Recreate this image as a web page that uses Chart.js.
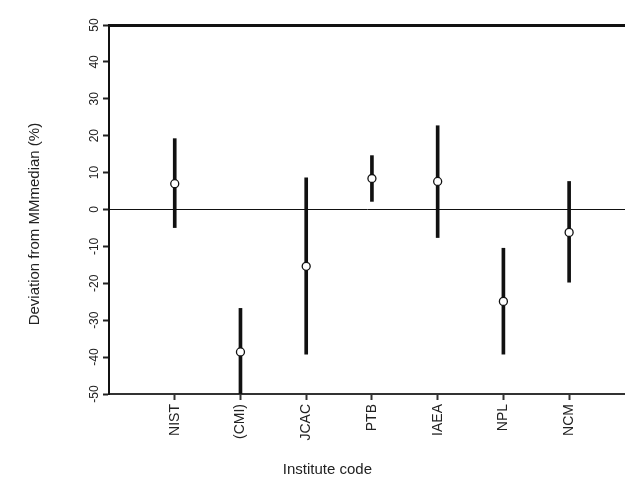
<!DOCTYPE html>
<html>
<head>
<meta charset="utf-8">
<script src="https://cdn.jsdelivr.net/npm/chart.js@4/dist/chart.umd.min.js"></script>
<style>
  html, body { margin: 0; padding: 0; background: #ffffff; overflow: hidden; }
  canvas { display: block; }
</style>
</head>
<body>
<canvas id="c" width="625" height="482" style="width:625px;height:482px"></canvas>
<script>
// Data
const categories = ['NIST', '(CMI)', 'JCAC', 'PTB', 'IAEA', 'NPL', 'NCM'];
const deviation = [7.0, -38.6, -15.4, 8.4, 7.6, -24.9, -6.2];
const lowerBound = [-4.9, -50, -39.2, 2.2, -7.6, -39.2, -19.7];
const upperBound = [19.2, -26.8, 8.6, 14.6, 22.7, -10.5, 7.6];
const yTicks = [-50, -40, -30, -20, -10, 0, 10, 20, 30, 40, 50];

const FONT = "'Liberation Sans', Arial, sans-serif";
// trailing spaces shift the centred titles to where the reference places them
const xTitle = 'Institute code' + ' '.repeat(19);
const yTitle = 'Deviation from MMmedian (%)' + ' '.repeat(7);

const barData = categories.map((c, i) => ({ x: i, y: [lowerBound[i], upperBound[i]] }));
const pointData = categories.map((c, i) => ({ x: i, y: deviation[i] }));

new Chart(document.getElementById('c'), {
  data: {
    datasets: [
      {
        type: 'scatter',
        label: 'Deviation',
        data: pointData,
        pointRadius: 4,
        pointHoverRadius: 4,
        pointBackgroundColor: '#ffffff',
        pointBorderColor: '#111111',
        pointBorderWidth: 1.3,
        order: 0
      },
      {
        type: 'bar',
        label: 'Uncertainty',
        data: barData,
        backgroundColor: '#111111',
        borderWidth: 0,
        barThickness: 3,
        grouped: false,
        order: 1
      }
    ]
  },
  options: {
    responsive: false,
    animation: false,
    devicePixelRatio: 1,
    layout: { autoPadding: false, padding: { top: 25, right: 0, bottom: 0, left: 0 } },
    plugins: { legend: { display: false }, tooltip: { enabled: false } },
    scales: {
      x: {
        type: 'linear',
        min: -1,
        max: 6.85,
        offset: false,
        afterFit: (s) => { s.height = 88; s.paddingRight = 0; },
        afterBuildTicks: (s) => { s.ticks = categories.map((c, i) => ({ value: i })); },
        ticks: {
          autoSkip: false,
          minRotation: 90,
          maxRotation: 90,
          padding: 4,
          color: '#222',
          font: { family: FONT, size: 14 },
          callback: (v) => categories[v] !== undefined ? categories[v] : ''
        },
        grid: {
          offset: false,
          drawOnChartArea: false,
          color: 'transparent',
          tickColor: '#333',
          tickLength: 6,
          tickWidth: 2
        },
        border: { display: true, color: '#333', width: 2 },
        title: {
          display: true,
          text: xTitle,
          color: '#222',
          font: { family: FONT, size: 15 },
          padding: { top: 4, bottom: 3 }
        }
      },
      y: {
        type: 'linear',
        min: -50,
        max: 50,
        afterFit: (s) => { s.width = 109; },
        ticks: {
          stepSize: 5,
          minRotation: 90,
          maxRotation: 90,
          crossAlign: 'center',
          padding: 0,
          color: '#222',
          font: { family: FONT, size: 12 },
          callback: (v) => yTicks.includes(v) ? String(v) : ''
        },
        grid: {
          color: (ctx) => (ctx.tick && (ctx.tick.value === 0 || ctx.tick.value === 50)) ? '#111' : 'transparent',
          lineWidth: (ctx) => (ctx.tick && ctx.tick.value === 50) ? 3 : 1,
          tickColor: '#222',
          tickLength: 6,
          tickWidth: 2
        },
        border: { display: true, color: '#111', width: 2 },
        title: {
          display: true,
          text: yTitle,
          color: '#222',
          font: { family: FONT, size: 15 },
          padding: { top: 26, bottom: 4 }
        }
      }
    }
  }
});
</script>
</body>
</html>
